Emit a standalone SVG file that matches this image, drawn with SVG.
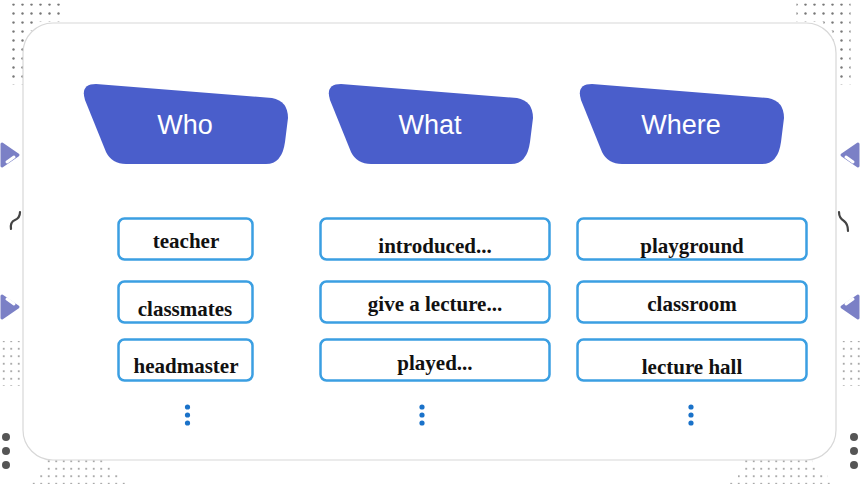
<svg xmlns="http://www.w3.org/2000/svg" width="860" height="484" viewBox="0 0 860 484">
<defs>
<style>
.hdr{fill:#4a5ecb}
.htxt{font-family:"Liberation Sans",Arial,sans-serif;font-size:27px;fill:#fff;text-anchor:middle}
.box{fill:#fff;stroke:#3b9fe2;stroke-width:2.5}
.btxt{font-family:"Liberation Serif","Times New Roman",serif;font-weight:bold;font-size:21px;fill:#111;text-anchor:middle}
.vd{fill:#1a72c9}
.tri{fill:#7b80c6;stroke:#7b80c6;stroke-width:3;stroke-linejoin:round}
.stripe{stroke:#fff;stroke-width:3;stroke-linecap:round}
.sq{fill:none;stroke:#444;stroke-width:2.2;stroke-linecap:round}
.big{fill:#555}
</style>
<path id="hshape" d="M14,0 L190,14 Q206,17 206,34 L203,58 Q200,80 184,80 L44,80 Q30,80 24,68 L3,16 Q-2,0 14,0 Z"/>
<pattern id="pd9" x="0" y="0" width="9" height="9" patternUnits="userSpaceOnUse"><circle cx="4.5" cy="4.5" r="1.2" fill="#777"/></pattern>
<pattern id="pd7" x="0" y="0" width="7.5" height="7.5" patternUnits="userSpaceOnUse"><circle cx="3.75" cy="3.75" r="0.9" fill="#888"/></pattern>
</defs>

<rect x="0" y="0" width="860" height="484" fill="#fff"/>

<g id="decor">
<rect x="9.5" y="3.5" width="54" height="18" fill="url(#pd9)"/>
<rect x="9.5" y="21.5" width="27" height="9" fill="url(#pd9)"/>
<rect x="9.5" y="30.5" width="18" height="54" fill="url(#pd9)"/>
<rect x="796.5" y="3.5" width="54" height="18" fill="url(#pd9)"/>
<rect x="823.5" y="21.5" width="27" height="9" fill="url(#pd9)"/>
<rect x="832.5" y="30.5" width="18" height="54" fill="url(#pd9)"/>
<rect x="0" y="341" width="22" height="45" fill="url(#pd7)"/>
<rect x="838" y="341" width="22" height="45" fill="url(#pd7)"/>
<rect x="45" y="457" width="60" height="8" fill="url(#pd7)"/>
<rect x="45" y="464.5" width="68" height="8" fill="url(#pd7)"/>
<rect x="37" y="472" width="83" height="8" fill="url(#pd7)"/>
<rect x="30" y="479.5" width="97" height="6" fill="url(#pd7)"/>
<rect x="745" y="457" width="68" height="8" fill="url(#pd7)"/>
<rect x="745" y="464.5" width="75" height="8" fill="url(#pd7)"/>
<rect x="738" y="472" width="90" height="8" fill="url(#pd7)"/>
<rect x="730" y="479.5" width="105" height="6" fill="url(#pd7)"/>
<circle class="big" cx="6" cy="437" r="4"/>
<circle class="big" cx="6" cy="451" r="4"/>
<circle class="big" cx="6" cy="465" r="4"/>
<circle class="big" cx="854" cy="437" r="4"/>
<circle class="big" cx="854" cy="451" r="4"/>
<circle class="big" cx="854" cy="465" r="4"/>
<polygon class="tri" points="2,144 18,155 2,166"/>
<line class="stripe" x1="7" y1="162" x2="14" y2="157"/>
<polygon class="tri" points="2,296 18,307 2,318"/>
<line class="stripe" x1="7" y1="299" x2="14" y2="304"/>
<polygon class="tri" points="858,144 842,155 858,166"/>
<line class="stripe" x1="853" y1="162" x2="846" y2="157"/>
<polygon class="tri" points="858,296 842,307 858,318"/>
<line class="stripe" x1="853" y1="299" x2="846" y2="304"/>
<path class="sq" d="M11,229 Q10,222 15,220 Q20,218 20,212"/>
<path class="sq" d="M839,212 Q839,218 844,221 Q848,224 848,231"/>
</g>

<rect x="23" y="23" width="813" height="437" rx="30" fill="#fff" stroke="#d8d8d8" stroke-width="1.2"/>

<g id="who"><use class="hdr" href="#hshape" transform="translate(82,84)"/><text class="htxt" x="185" y="134">Who</text></g>
<g id="what"><use class="hdr" href="#hshape" transform="translate(327,84)"/><text class="htxt" x="430" y="134">What</text></g>
<g id="where"><use class="hdr" href="#hshape" transform="translate(578,84)"/><text class="htxt" x="681" y="134">Where</text></g>

<g id="teacher"><rect class="box" x="118.5" y="218.5" width="134" height="41" rx="6"/><text class="btxt" x="186" y="248">teacher</text></g>
<g id="classmates"><rect class="box" x="118.5" y="281.5" width="134" height="41" rx="6"/><text class="btxt" x="185" y="316">classmates</text></g>
<g id="headmaster"><rect class="box" x="118.5" y="339.5" width="134" height="41" rx="6"/><text class="btxt" x="186" y="373">headmaster</text></g>
<g id="who-more"><circle class="vd" cx="187.5" cy="407" r="2.6"/><circle class="vd" cx="187.5" cy="415" r="2.6"/><circle class="vd" cx="187.5" cy="423" r="2.6"/></g>

<g id="introduced"><rect class="box" x="320.5" y="218.5" width="229" height="41" rx="6"/><text class="btxt" x="435" y="253">introduced...</text></g>
<g id="lecture"><rect class="box" x="320.5" y="281.5" width="229" height="41" rx="6"/><text class="btxt" x="435" y="311">give a lecture...</text></g>
<g id="played"><rect class="box" x="320.5" y="339.5" width="229" height="41" rx="6"/><text class="btxt" x="435" y="370">played...</text></g>
<g id="what-more"><circle class="vd" cx="422" cy="407" r="2.6"/><circle class="vd" cx="422" cy="415" r="2.6"/><circle class="vd" cx="422" cy="423" r="2.6"/></g>

<g id="playground"><rect class="box" x="577.5" y="218.5" width="229" height="41" rx="6"/><text class="btxt" x="692" y="253">playground</text></g>
<g id="classroom"><rect class="box" x="577.5" y="281.5" width="229" height="41" rx="6"/><text class="btxt" x="692" y="311">classroom</text></g>
<g id="hall"><rect class="box" x="577.5" y="339.5" width="229" height="41" rx="6"/><text class="btxt" x="692" y="374">lecture hall</text></g>
<g id="where-more"><circle class="vd" cx="691" cy="407" r="2.6"/><circle class="vd" cx="691" cy="415" r="2.6"/><circle class="vd" cx="691" cy="423" r="2.6"/></g>

<g id="connectors"></g>
</svg>
